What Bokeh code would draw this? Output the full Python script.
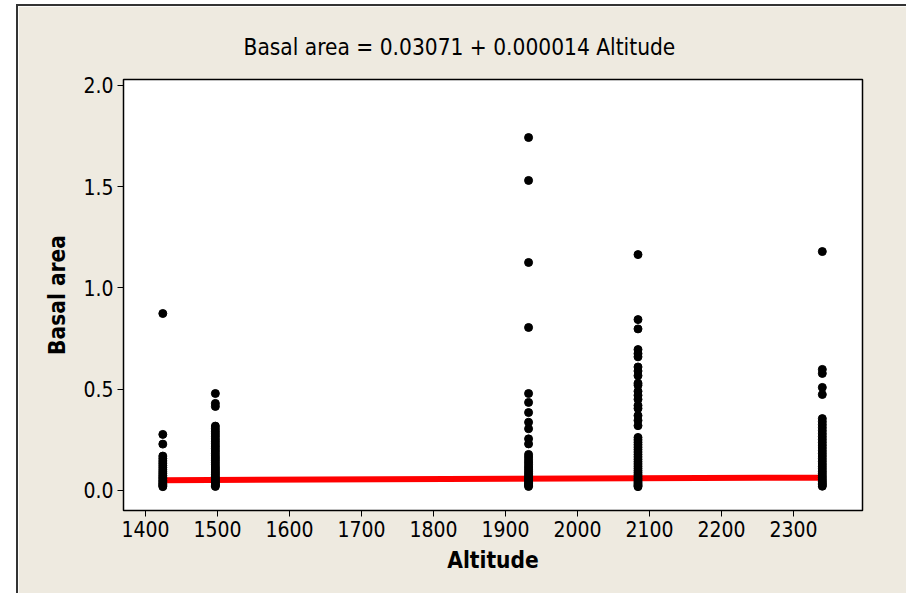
from bokeh.plotting import figure
from bokeh.models import ColumnDataSource, Range1d, FixedTicker
from bokeh.embed import file_html
from bokeh.resources import INLINE

# ---- data ----
altitudes = [1424, 1497, 1932, 2084, 2340]

ba_1424 = [0.874, 0.277, 0.229, 0.170, 0.158, 0.146, 0.135, 0.124, 0.113, 0.102,
           0.092, 0.083, 0.074, 0.066, 0.058, 0.050, 0.043, 0.036, 0.030, 0.024, 0.019]
ba_1497 = [0.479, 0.430, 0.415, 0.318, 0.305, 0.292, 0.280, 0.268, 0.255, 0.243,
           0.231, 0.219, 0.207, 0.195, 0.183, 0.171, 0.160, 0.149, 0.138, 0.127,
           0.116, 0.106, 0.096, 0.087, 0.078, 0.069, 0.061, 0.053, 0.046, 0.039,
           0.032, 0.026, 0.020]
ba_1932 = [1.743, 1.531, 1.126, 0.805, 0.479, 0.435, 0.385, 0.337, 0.305, 0.255,
           0.230, 0.178, 0.165, 0.152, 0.140, 0.128, 0.116, 0.105, 0.094, 0.084,
           0.074, 0.065, 0.056, 0.048, 0.040, 0.033, 0.026, 0.020]
ba_2084 = [1.165, 0.844, 0.798, 0.696, 0.676, 0.660, 0.610, 0.590, 0.567, 0.530,
           0.520, 0.490, 0.470, 0.450, 0.420, 0.405, 0.370, 0.346, 0.320, 0.262,
           0.250, 0.238, 0.226, 0.214, 0.202, 0.190, 0.178, 0.166, 0.154, 0.142,
           0.131, 0.120, 0.109, 0.098, 0.088, 0.078, 0.069, 0.060, 0.052, 0.044,
           0.037, 0.030, 0.024, 0.019]
ba_2340 = [1.180, 0.598, 0.578, 0.509, 0.474, 0.355, 0.340, 0.325, 0.310, 0.295,
           0.280, 0.266, 0.252, 0.238, 0.224, 0.210, 0.196, 0.183, 0.170, 0.157,
           0.144, 0.131, 0.119, 0.107, 0.095, 0.084, 0.073, 0.063, 0.053, 0.044,
           0.036, 0.028, 0.021]
basal_by_altitude = [ba_1424, ba_1497, ba_1932, ba_2084, ba_2340]

# fitted line: Basal area = 0.03071 + 0.000014 Altitude (end points)
fit_x = [1424, 2340]
fit_y = [0.0507, 0.0635]

x_ticks = [1400, 1500, 1600, 1700, 1800, 1900, 2000, 2100, 2200, 2300]
y_ticks = [0.0, 0.5, 1.0, 1.5, 2.0]
y_tick_labels = ["0.0", "0.5", "1.0", "1.5", "2.0"]

title_text = "Basal area =  0.03071 + 0.000014 Altitude"
x_label = "Altitude"
y_label = "Basal area"

# ---- build sources ----
xs, ys = [], []
for a, vals in zip(altitudes, basal_by_altitude):
    xs += [a] * len(vals)
    ys += vals
pts = ColumnDataSource(dict(x=xs, y=ys))
fit = ColumnDataSource(dict(x=fit_x, y=fit_y))

FONT = "DejaVu Sans Condensed"
BEIGE = "#EEEAE0"

p = figure(width=893, height=587, output_backend="svg", toolbar_location=None,
           x_range=Range1d(1369.4, 2395.8), y_range=Range1d(-0.0988, 2.0296),
           min_border_left=105, min_border_right=49, min_border_top=73,
           min_border_bottom=83)

p.styles = {"margin-left": "18px", "margin-top": "6px",
            "outline": "2px solid #333333"}

p.background_fill_color = "white"
p.border_fill_color = BEIGE
p.outline_line_color = "black"
p.outline_line_width = 1.5
p.grid.visible = False

p.line("x", "y", source=fit, line_color="#FF0000", line_width=6)
p.scatter("x", "y", source=pts, size=8, color="black")

# title
p.title.text = title_text
p.title.align = "left"
p.title.offset = 120
p.title.standoff = 40
p.title.text_font = FONT
p.title.text_font_size = "22.5px"
p.title.text_font_style = "normal"
p.title.text_color = "black"

# axes
p.xaxis.ticker = FixedTicker(ticks=x_ticks)
p.yaxis.ticker = FixedTicker(ticks=y_ticks)
p.yaxis.major_label_overrides = {t: l for t, l in zip(y_ticks, y_tick_labels)}
p.xaxis.axis_label = x_label
p.yaxis.axis_label = y_label
for ax in (p.xaxis[0], p.yaxis[0]):
    ax.minor_tick_line_color = None
    ax.major_tick_in = 0
    ax.major_tick_out = 6
    ax.axis_line_color = "black"
    ax.major_tick_line_color = "black"
    ax.major_label_text_font = FONT
    ax.major_label_text_font_size = "21px"
    ax.major_label_text_color = "black"
    ax.major_label_standoff = 4
    ax.axis_label_text_font = FONT
    ax.axis_label_text_font_size = "22.5px"
    ax.axis_label_text_font_style = "bold"
    ax.axis_label_text_color = "black"
p.xaxis[0].axis_label_standoff = 7
p.yaxis[0].axis_label_standoff = 10

html = file_html(p, INLINE)
html = html.replace("<head>", "<head><style>html,body{margin:0;padding:0;overflow:hidden;}</style>", 1)
open("out.html", "w").write(html)
